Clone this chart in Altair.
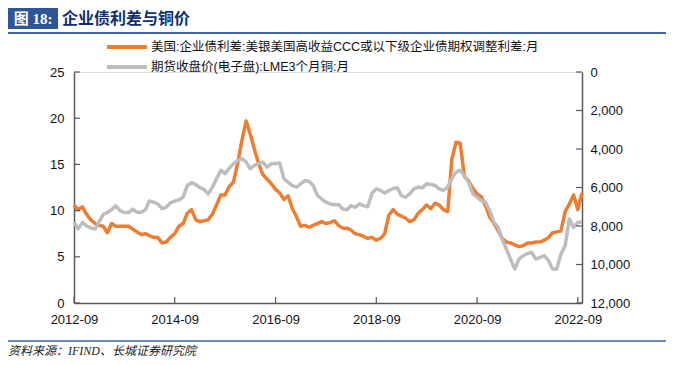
import altair as alt
import pandas as pd

# ---------------- data ----------------
months = pd.date_range("2012-09-01", periods=122, freq="MS")

spread = [10.6, 10.1, 10.4, 9.6, 9.0, 8.6, 8.4, 8.3, 7.6, 8.6,
          8.3, 8.3, 8.3, 8.3, 8.0, 7.7, 7.4, 7.5, 7.3, 7.1,
          7.1, 6.5, 6.6, 7.1, 7.5, 8.3, 8.6, 9.7, 10.1, 9.0,
          8.8, 8.9, 9.0, 9.6, 10.6, 11.7, 11.7, 12.6, 13.1, 15.1,
          17.6, 19.7, 18.3, 16.6, 15.1, 13.9, 13.4, 12.9, 12.3, 11.9,
          11.2, 11.6, 10.2, 9.3, 8.3, 8.4, 8.2, 8.4, 8.6, 8.8,
          8.6, 8.7, 8.9, 8.4, 8.1, 8.1, 7.9, 7.5, 7.4, 7.2,
          7.0, 7.1, 6.8, 7.0, 7.5, 9.5, 10.1, 9.6, 9.4, 9.2,
          8.8, 9.0, 9.7, 10.1, 10.6, 10.2, 10.8, 10.6, 10.1, 9.9,
          15.5, 17.4, 17.3, 13.7, 13.2, 12.4, 11.8, 11.5, 10.5, 9.3,
          8.6, 7.8, 7.0, 6.6, 6.5, 6.3, 6.1, 6.2, 6.5, 6.5,
          6.6, 6.6, 6.8, 7.1, 7.6, 7.7, 7.8, 9.9, 10.7, 11.7,
          10.1, 11.9]

copper = [7810, 8150, 7810, 8000, 8100, 8150, 7800, 7400, 7300, 7150,
          6950, 7200, 7300, 7300, 7120, 7280, 7290, 7150, 6700, 6760,
          6850, 7100, 7030, 6800, 6700, 6650, 6500, 5900, 5750, 5850,
          6000, 6100, 6330, 5980, 5550, 5110, 5280, 5000, 4760, 4600,
          4500, 4680, 5020, 4850, 4760, 4680, 4940, 4770, 4750, 4730,
          5550, 5720, 5900, 5980, 5810, 5650, 5680, 5900, 6400, 6600,
          6765, 6850, 6900, 6880, 7115, 7160, 6940, 7030, 6850, 6940,
          7000, 6300, 6070, 6150, 6290, 6155, 6050, 6020, 6420, 6505,
          6330, 6070, 5980, 6020, 5810, 5840, 5895, 6070, 6155, 5980,
          5545, 5200, 5110, 5370, 5720, 6330, 6505, 6680, 6765, 7200,
          7810, 8070, 8680, 9200, 9720, 10240, 9720, 9545, 9430, 9375,
          9720, 9635, 9545, 9810, 10240, 10240, 9460, 9025, 7630, 8070,
          7810, 7810]

left_ticks = [0, 5, 10, 15, 20, 25]
right_ticks = [0, 2000, 4000, 6000, 8000, 10000, 12000]
tick_years = [2012, 2014, 2016, 2018, 2020, 2022]

series_names = ["美国:企业债利差:美银美国高收益CCC或以下级企业债期权调整利差:月",
                "期货收盘价(电子盘):LME3个月铜:月"]
title_label = "图 18:"
title_text = "企业债利差与铜价"
source_text = "资料来源：IFIND、长城证券研究院"

df = pd.DataFrame({"date": months, "spread": spread, "copper": copper})

# ---------------- layout ----------------
W, H = 508, 231
PAD_L, PAD_T, PAD_R, PAD_B = 66, 64, 84, 54
ORANGE = "#ED7D31"
GRAY = "#BDBDBD"
AXC = "#595959"
BLUE = "#2E5597"
LAB_FONT = "Liberation Sans, Arial, Noto Sans CJK SC"

x_axis = alt.Axis(values=[alt.DateTime(year=y, month=9, date=1) for y in tick_years],
                  format="%Y-%m", ticks=False, tickSize=0, grid=False,
                  domainColor=AXC, domainWidth=1.5, labelPadding=10,
                  labelFontSize=13, labelFont=LAB_FONT, labelColor="#111",
                  title=None, labelFlush=False)
x_scale = alt.Scale(domain=[alt.DateTime(year=2012, month=9, date=1),
                            alt.DateTime(year=2022, month=10, date=1)])

left_axis = alt.Axis(values=left_ticks, ticks=False, tickSize=0, grid=False,
                     domainColor=AXC, domainWidth=1.5, labelPadding=10,
                     labelFontSize=13, labelFont=LAB_FONT, labelColor="#111",
                     title=None)
left_scale = alt.Scale(domain=[0, 25], nice=False)

right_axis = alt.Axis(orient="right", values=right_ticks, format=",.0f", ticks=False,
                      tickSize=0, grid=False, domainColor=AXC, domainWidth=1.5,
                      labelPadding=8, labelFontSize=13, labelFont=LAB_FONT,
                      labelColor="#111", title=None)
right_scale = alt.Scale(domain=[0, 12000], reverse=True, nice=False)

base = alt.Chart(df)

orange_line = base.mark_line(color=ORANGE, strokeWidth=3.5, strokeJoin="round").encode(
    x=alt.X("date:T", scale=x_scale, axis=x_axis),
    y=alt.Y("spread:Q", scale=left_scale, axis=left_axis),
)

left_tick_layer = alt.Chart(pd.DataFrame({"spread": left_ticks})).mark_rule(
    color=AXC, strokeWidth=1.2
).encode(y=alt.Y("spread:Q", scale=left_scale, axis=left_axis),
         x=alt.value(0), x2=alt.value(6))

gray_line = base.mark_line(color=GRAY, strokeWidth=3.5, strokeJoin="round").encode(
    x=alt.X("date:T", scale=x_scale, axis=x_axis),
    y=alt.Y("copper:Q", scale=right_scale, axis=right_axis),
)

right_tick_layer = alt.Chart(pd.DataFrame({"copper": right_ticks})).mark_rule(
    color=AXC, strokeWidth=1.2
).encode(y=alt.Y("copper:Q", scale=right_scale, axis=right_axis),
         x=alt.value(W - 6), x2=alt.value(W))

x_tick_layer = alt.Chart(
    pd.DataFrame({"date": pd.to_datetime([f"{y}-09-01" for y in tick_years])})
).mark_rule(color=AXC, strokeWidth=1.2).encode(
    x=alt.X("date:T", scale=x_scale, axis=x_axis), y=alt.value(H), y2=alt.value(H - 6)
)

left_group = alt.layer(orange_line, left_tick_layer)
right_group = alt.layer(gray_line, right_tick_layer, x_tick_layer)

# ---------------- decorations ----------------
one = alt.Data(values=[{"a": 1}])

title_box = alt.Chart(one).mark_rect(color=BLUE).encode(
    x=alt.value(-66), x2=alt.value(-16), y=alt.value(-64), y2=alt.value(-43)
)
title_lab = alt.Chart(pd.DataFrame({"t": [title_label]})).mark_text(
    font="Liberation Serif, Noto Sans CJK SC", fontSize=15, fontWeight="bold",
    color="white", align="center", baseline="middle"
).encode(text="t:N", x=alt.value(-41), y=alt.value(-53))
title_txt = alt.Chart(pd.DataFrame({"t": [title_text]})).mark_text(
    font="Noto Sans CJK SC", fontSize=16, fontWeight="bold",
    color="#0F2F6E", align="left", baseline="middle"
).encode(text="t:N", x=alt.value(-12), y=alt.value(-53))
top_line = alt.Chart(one).mark_rule(color="#3C63A9", strokeWidth=2).encode(
    x=alt.value(-66), x2=alt.value(W + PAD_R), y=alt.value(-39)
)
bottom_line = alt.Chart(one).mark_rule(color="#3C63A9", strokeWidth=1.5).encode(
    x=alt.value(-66), x2=alt.value(W + PAD_R), y=alt.value(269)
)
source = alt.Chart(pd.DataFrame({"t": [source_text]})).mark_text(
    font="Liberation Serif, Noto Sans CJK SC", fontSize=12, fontStyle="italic",
    color="#222", align="left", baseline="middle"
).encode(text="t:N", x=alt.value(-66), y=alt.value(279))

leg_sym1 = alt.Chart(one).mark_rule(color=ORANGE, strokeWidth=4).encode(
    x=alt.value(33), x2=alt.value(73), y=alt.value(-25)
)
leg_sym2 = alt.Chart(one).mark_rule(color=GRAY, strokeWidth=4).encode(
    x=alt.value(33), x2=alt.value(73), y=alt.value(-5)
)
leg_txt1 = alt.Chart(pd.DataFrame({"t": [series_names[0]]})).mark_text(
    font=LAB_FONT, fontSize=12.5, color="#111", align="left", baseline="middle"
).encode(text="t:N", x=alt.value(77), y=alt.value(-25))
leg_txt2 = alt.Chart(pd.DataFrame({"t": [series_names[1]]})).mark_text(
    font=LAB_FONT, fontSize=12.5, color="#111", align="left", baseline="middle"
).encode(text="t:N", x=alt.value(77), y=alt.value(-5))

plot = alt.layer(left_group, right_group).resolve_scale(y="independent")

chart = alt.layer(
    plot, title_box, title_lab, title_txt, top_line, bottom_line, source,
    leg_sym1, leg_sym2, leg_txt1, leg_txt2
).properties(
    width=W, height=H,
    autosize=alt.AutoSizeParams(type="none"),
    padding={"left": PAD_L, "top": PAD_T, "right": PAD_R, "bottom": PAD_B},
).configure_view(stroke=None).configure(background="white")

chart.save("out.html", embed_options={"renderer": "svg", "actions": False})
